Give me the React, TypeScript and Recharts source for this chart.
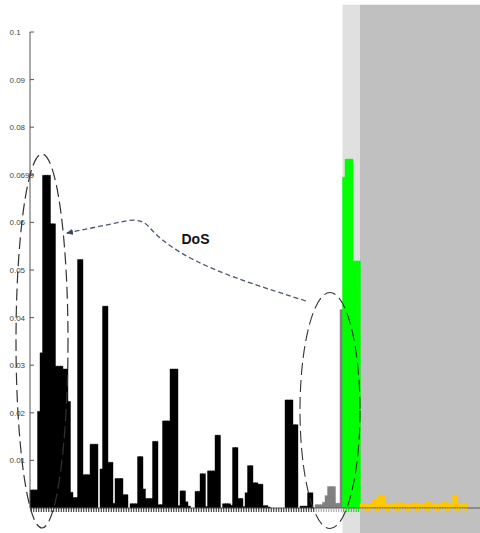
import React from 'react';
import { BarChart, Bar, XAxis, YAxis, ReferenceArea } from 'recharts';

// ---- data (bin index → density) ----
const binCount = 180;

const blackStart = 0;
const blackValues = [
  0.0038, 0.0038, 0.0038, 0.0203, 0.0326, 0.0699, 0.0699, 0.0699, 0.0597, 0.0597,
  0.0298, 0.0298, 0.0298, 0.0292, 0.0292, 0.0224, 0.0033, 0.0022, 0.0022, 0.0522,
  0.0522, 0.0070, 0.0070, 0.0070, 0.0134, 0.0134, 0.0134, 0, 0.0082, 0.0424,
  0.0424, 0.0096, 0.0096, 0.0010, 0.0062, 0.0062, 0.0062, 0.0028, 0.0028, 0,
  0.0009, 0.0009, 0.0009, 0.0108, 0.0108, 0.0040, 0.0020, 0.0020, 0.0020, 0.0140,
  0.0140, 0.0007, 0.0007, 0.0183, 0.0183, 0.0183, 0.0292, 0.0292, 0.0292, 0.0005,
  0.0036, 0.0036, 0.0013, 0.0004, 0, 0, 0.0035, 0.0035, 0.0072, 0.0072,
  0.0003, 0.0078, 0.0078, 0.0078, 0.0153, 0.0153, 0, 0.0009, 0.0009, 0.0009,
  0.0006, 0.0127, 0.0127, 0.0020, 0.0020, 0.0003, 0.0032, 0.0089, 0.0089, 0.0053,
  0.0053, 0.0050, 0.0050, 0.0005, 0.0005, 0.0002, 0, 0, 0, 0,
  0, 0, 0.0227, 0.0227, 0.0227, 0.0175, 0.0175, 0, 0.0004, 0.0004,
  0.0004, 0.0032, 0.0032, 0,
];

const grayStart = 114;
const grayValues = [0.0007, 0.0007, 0.0007, 0.0012, 0.0026, 0.0045, 0.0045, 0.0045, 0.0010, 0.0010, 0.0417];

const greenStart = 125;
const greenValues = [0.0695, 0.0733, 0.0733, 0.0733, 0.0519, 0.0519, 0.0519];

const yellowStart = 132;
const yellowValues = [
  0.0009, 0.0009, 0.0009, 0.0009, 0.0009, 0.0019, 0.0019, 0.0027, 0.0027, 0.0027,
  0.0009, 0.0009, 0.0009, 0.0009, 0.0011, 0.0011, 0.0011, 0.0009, 0.0009, 0.0009,
  0.0009, 0.0011, 0.0011, 0.0009, 0.0009, 0.0009, 0.0014, 0.0014, 0.0009, 0.0009,
  0.0009, 0.0009, 0.0009, 0.0013, 0.0013, 0.0009, 0.0009, 0.0027, 0.0027, 0.0009,
  0.0009, 0.0009, 0.0009,
];

const yTicks = [0.01, 0.02, 0.03, 0.04, 0.05, 0.06, 0.07, 0.08, 0.09, 0.1];
const yTickLabels = ['0.01', '0.02', '0.03', '0.04', '0.05', '0.06', '0.0699', '0.08', '0.09', '0.1'];

const annotationText = 'DoS';

// ---- helpers ----
const pick = (arr: number[], start: number, i: number): number | null => {
  const k = i - start;
  return k >= 0 && k < arr.length ? arr[k] : null;
};
const inRange = (arr: number[], start: number, i: number) => i >= start && i < start + arr.length;

const data = Array.from({ length: binCount }, (_, i) => ({
  bin: i,
  black: pick(blackValues, blackStart, i),
  gray: pick(grayValues, grayStart, i),
  green: pick(greenValues, greenStart, i),
  yellow: pick(yellowValues, yellowStart, i),
}));

const tickColor = (i: number): string | null => {
  if (inRange(blackValues, blackStart, i)) return '#222';
  if (inRange(grayValues, grayStart, i)) return '#a0a0a0';
  if (inRange(greenValues, greenStart, i)) return '#00d000';
  if (inRange(yellowValues, yellowStart, i)) return '#ffc800';
  return null;
};

const FONT = '"Liberation Sans", Arial, sans-serif';

const XTick = (props: any) => {
  const { x, y, index } = props;
  const c = tickColor(index);
  if (!c) return null;
  return <line x1={x} x2={x} y1={y} y2={y + 4} stroke={c} strokeWidth={1} />;
};

const YTick = (props: any) => {
  const { x, y, payload } = props;
  const idx = yTicks.findIndex((v) => Math.abs(v - payload.value) < 1e-9);
  const label = idx >= 0 ? yTickLabels[idx] : '';
  return (
    <g>
      <line x1={x} x2={x + 4} y1={y} y2={y} stroke="#555" strokeWidth={1} />
      <text x={x - 20.5} y={y} dy={3} fontSize={8} fill="#444" textAnchor="start" fontFamily={FONT}>
        {label}
      </text>
    </g>
  );
};

export default function App() {
  return (
    <div style={{ position: 'absolute', left: 0, top: 0, width: 480, height: 533, background: '#fff' }}>
      <BarChart
        width={480}
        height={533}
        data={data}
        margin={{ top: 32, right: 0, bottom: 0, left: 0 }}
        barCategoryGap={0}
        barGap={0}
      >
        <ReferenceArea
          x1={greenStart}
          x2={greenStart + greenValues.length - 1}
          y1={-0.006}
          y2={0.1057}
          ifOverflow="visible"
          fill="#e0e0e0"
          fillOpacity={1}
          stroke="none"
        />
        <ReferenceArea
          x1={yellowStart}
          x2={binCount - 1}
          y1={-0.006}
          y2={0.1057}
          ifOverflow="visible"
          fill="#c0c0c0"
          fillOpacity={1}
          stroke="none"
        />
        <XAxis
          dataKey="bin"
          type="category"
          height={25}
          interval={0}
          tickSize={0}
          tickMargin={0}
          tickLine={false}
          tick={<XTick />}
          axisLine={{ stroke: '#555', strokeWidth: 1 }}
        />
        <YAxis
          width={30}
          domain={[0, 0.1]}
          ticks={yTicks}
          interval={0}
          tickSize={0}
          tickMargin={0}
          tickLine={false}
          tick={<YTick />}
          axisLine={{ stroke: '#555', strokeWidth: 1 }}
          allowDataOverflow
        />
        <Bar dataKey="black" stackId="s" fill="#000" stroke="#000" strokeWidth={0.4} isAnimationActive={false} />
        <Bar dataKey="gray" stackId="s" fill="#808080" stroke="#808080" strokeWidth={0.4} isAnimationActive={false} />
        <Bar dataKey="green" stackId="s" fill="#00ff00" stroke="#00ff00" strokeWidth={0.4} isAnimationActive={false} />
        <Bar dataKey="yellow" stackId="s" fill="#ffc800" stroke="#ffc800" strokeWidth={0.4} isAnimationActive={false} />
      </BarChart>
      <svg
        width={480}
        height={533}
        style={{ position: 'absolute', left: 0, top: 0, pointerEvents: 'none' }}
      >
        <defs>
          <marker
            id="arrowHead"
            markerWidth={7}
            markerHeight={6}
            refX={6}
            refY={3}
            orient="auto"
            markerUnits="userSpaceOnUse"
          >
            <path d="M0,0 L7,3 L0,6 z" fill="#3d4a66" />
          </marker>
        </defs>
        <ellipse cx={42} cy={341} rx={26} ry={187} fill="none" stroke="#333" strokeWidth={1.2} strokeDasharray="12 5" />
        <ellipse cx={330} cy={410.5} rx={30} ry={118} fill="none" stroke="#333" strokeWidth={1.1} strokeDasharray="12 5" />
        <path
          d="M306,301 C240,280 180,262 150,228 C144,221 138,219.5 128,220.5 L67,233"
          fill="none"
          stroke="#4a5670"
          strokeWidth={1.3}
          strokeDasharray="5 3"
          markerEnd="url(#arrowHead)"
        />
        <text x={181.5} y={244} fontSize={14} fontWeight="bold" fill="#111" fontFamily={FONT}>
          {annotationText}
        </text>
      </svg>
    </div>
  );
}
